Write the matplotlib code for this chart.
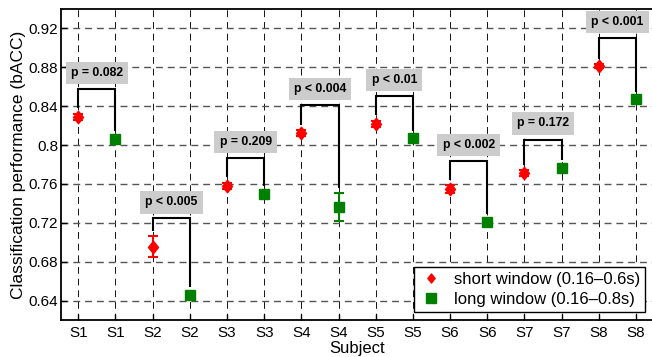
import matplotlib
matplotlib.use("Agg")
import matplotlib.pyplot as plt
from matplotlib.lines import Line2D
from matplotlib.path import Path
import numpy as np

plt.rcParams['font.family'] = ['Liberation Sans', 'DejaVu Sans']

subjects = ["S1", "S2", "S3", "S4", "S5", "S6", "S7", "S8"]
short_vals = [0.829, 0.6955, 0.758, 0.812, 0.8215, 0.7545, 0.771, 0.881]
short_err = [0.003, 0.0105, 0.003, 0.003, 0.003, 0.004, 0.003, 0.002]
long_vals = [0.806, 0.6455, 0.750, 0.736, 0.807, 0.721, 0.7767, 0.847]
long_err = [0.002, 0.002, 0.002, 0.0143, 0.002, 0.002, 0.002, 0.002]
p_labels = ["p = 0.082", "p < 0.005", "p = 0.209", "p < 0.004",
            "p < 0.01", "p < 0.002", "p = 0.172", "p < 0.001"]
y_ticks = [0.64, 0.68, 0.72, 0.76, 0.80, 0.84, 0.88, 0.92]
y_tick_labels = ["0.64", "0.68", "0.72", "0.76", "0.8", "0.84", "0.88", "0.92"]
legend_labels = ["short window (0.16\u20130.6s)", "long window (0.16\u20130.8s)"]

RED = "#ff0000"
GREEN = "#008000"

diamond = Path([(0, 1), (0.8, 0), (0, -1), (-0.8, 0), (0, 1)],
               [Path.MOVETO, Path.LINETO, Path.LINETO, Path.LINETO, Path.CLOSEPOLY])

fig = plt.figure(figsize=(6.52, 3.57), dpi=100)
ax = fig.add_axes([61 / 652, 37 / 357, 592.3 / 652, 311 / 357])

n = len(subjects)
x_short = np.arange(n) * 2 + 1
x_long = np.arange(n) * 2 + 2

ax.errorbar(x_short, short_vals, yerr=short_err, fmt='none', ecolor=RED,
            elinewidth=1.5, capsize=3.6, capthick=1.5, zorder=4)
ax.plot(x_short, short_vals, linestyle='none', marker=diamond, markersize=9,
        color=RED, markeredgecolor=RED, zorder=5)
ax.errorbar(x_long, long_vals, yerr=long_err, fmt='none', ecolor=GREEN,
            elinewidth=1.5, capsize=3.6, capthick=1.5, zorder=4)
ax.plot(x_long, long_vals, linestyle='none', marker='s', markersize=7.5,
        color=GREEN, markeredgecolor=GREEN, zorder=5)

# significance brackets
for i in range(n):
    xs, xl = x_short[i], x_long[i]
    top = max(short_vals[i], long_vals[i]) + 0.029
    ys_end = short_vals[i] + short_err[i] + 0.007
    yl_end = long_vals[i] + long_err[i] + 0.007
    ax.plot([xs, xs, xl, xl], [ys_end, top, top, yl_end], color='black',
            linewidth=1.5, solid_joinstyle='miter', zorder=3)
    ax.text((xs + xl) / 2, top + 0.0165, p_labels[i], ha='center', va='center',
            fontsize=8.8, fontweight='bold', color='black', zorder=6,
            bbox=dict(boxstyle='square,pad=0.42', facecolor='#cccccc', edgecolor='none'))

ax.set_xlim(0.535, 16.465)
ax.set_ylim(0.62, 0.94)
xt = np.arange(1, 2 * n + 1)
ax.set_xticks(xt)
ax.set_xticklabels([s for s in subjects for _ in range(2)])
ax.set_yticks(y_ticks)
ax.set_yticklabels(y_tick_labels)
ax.tick_params(axis='both', direction='in', length=4, width=1, labelsize=11, colors='black')
ax.tick_params(axis='x', pad=4.5)
ax.tick_params(axis='y', pad=2)

ax.set_axisbelow(True)
ax.yaxis.grid(True, color='#555555', linewidth=1.0, linestyle=(0, (5, 3.5)))
ax.xaxis.grid(True, color='#111111', linewidth=0.7, linestyle=(0, (7, 5)))

for sp in ax.spines.values():
    sp.set_linewidth(1.3)
    sp.set_color('black')

ax.set_xlabel("Subject", fontsize=12, labelpad=0.5)
ax.set_ylabel("Classification performance (bACC)", fontsize=12.5, labelpad=2)

handles = [
    Line2D([], [], linestyle='none', marker=diamond, markersize=6.5, color=RED),
    Line2D([], [], linestyle='none', marker='s', markersize=6.5, color=GREEN),
]
leg = ax.legend(handles, legend_labels, loc='lower right', bbox_to_anchor=(0.986, 0.026),
                fontsize=12, frameon=True, fancybox=False, framealpha=1,
                edgecolor='black', handlelength=1.5, handletextpad=0.6,
                borderpad=0.3, labelspacing=0.3, borderaxespad=0)
leg.get_frame().set_linewidth(1.0)
leg.set_zorder(10)

fig.savefig("out.png", dpi=100)
